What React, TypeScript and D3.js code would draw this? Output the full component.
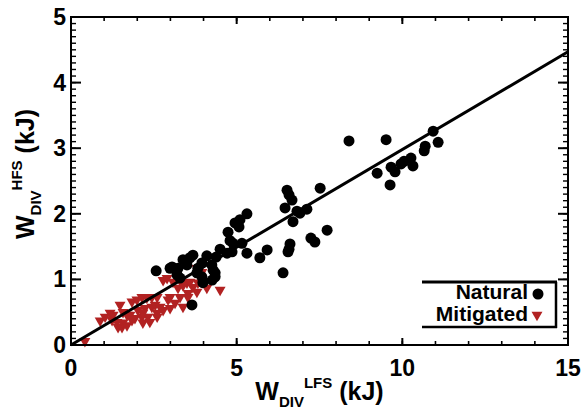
import React from "react";
import * as d3 from "d3";

const naturalX = [8.39, 9.51, 10.93, 11.08, 10.69, 10.66, 10.26, 10.05, 9.96, 10.32, 9.66, 9.78, 9.24, 9.63,
  7.52, 7.12, 7.73, 7.24, 7.36, 6.52, 6.58, 6.67, 6.46, 6.82, 6.91, 6.70, 6.61, 6.58, 6.55, 5.92, 5.70, 6.40,
  5.31, 5.10, 5.07, 4.74, 4.80, 5.16, 4.50, 4.86, 5.31, 4.10, 4.38, 4.29, 4.35, 3.95, 4.25, 3.68, 3.59, 3.38,
  3.50, 3.05, 2.99, 3.23, 2.57, 3.83, 4.35, 4.26, 3.95, 3.65, 3.80, 3.98, 4.95, 4.89, 4.71, 3.20, 3.29];
const naturalY = [3.11, 3.13, 3.26, 3.09, 3.03, 2.96, 2.85, 2.80, 2.76, 2.73, 2.71, 2.64, 2.62, 2.44,
  2.39, 2.07, 1.75, 1.63, 1.57, 2.36, 2.29, 2.21, 2.09, 2.04, 2.01, 1.88, 1.54, 1.46, 1.42, 1.45, 1.33, 1.10,
  2.00, 1.91, 1.80, 1.72, 1.59, 1.55, 1.46, 1.42, 1.40, 1.36, 1.34, 1.14, 1.04, 1.25, 1.22, 1.37, 1.33, 1.30,
  1.22, 1.19, 1.17, 1.17, 1.13, 1.17, 1.10, 0.99, 1.04, 0.61, 1.10, 0.95, 1.86, 1.55, 1.40, 1.07, 1.02];

const mitigatedX = [0.42, 0.88, 1.03, 1.18, 1.27, 1.24, 1.39, 1.42, 1.54, 1.57, 1.69, 1.48, 1.57, 1.78, 1.69,
  1.84, 1.99, 2.14, 2.29, 2.44, 2.60, 2.02, 2.23, 2.44, 1.93, 2.14, 2.32, 2.17, 2.38, 2.60, 1.84, 2.54, 2.69,
  2.17, 2.60, 2.78, 2.99, 3.14, 2.78, 2.90, 3.08, 3.23, 3.29, 3.53, 3.80, 3.83, 4.50, 3.50, 2.93, 3.38, 3.59,
  3.38, 3.68, 4.10, 3.53, 2.99, 3.80, 3.95];
const mitigatedY = [0.06, 0.37, 0.43, 0.49, 0.46, 0.38, 0.35, 0.27, 0.27, 0.34, 0.30, 0.61, 0.50, 0.46, 0.46,
  0.66, 0.69, 0.73, 0.72, 0.73, 0.73, 0.53, 0.56, 0.58, 0.41, 0.43, 0.43, 0.34, 0.35, 0.43, 0.38, 0.61, 0.58,
  0.49, 0.49, 0.53, 0.56, 0.64, 0.99, 1.02, 0.96, 0.87, 0.73, 0.79, 0.81, 0.95, 0.84, 0.95, 0.69, 0.58, 0.96,
  0.91, 0.88, 0.87, 0.73, 0.73, 1.17, 1.11];

const fitX = [0, 15];
const fitY = [0, 4.47];

const xMajor = [0, 5, 10, 15];
const yMajor = [0, 1, 2, 3, 4, 5];
const legendLabels = ["Natural", "Mitigated"];

const RED = "#b22222";

export default function App() {
  const W = 583, H = 418;
  const x = d3.scaleLinear().domain([0, 15]).range([71, 568]);
  const y = d3.scaleLinear().domain([0, 5]).range([345, 17]);
  const xMinor = d3.range(0, 16, 1);
  const yMinor = d3.range(0, 51).map((i) => i / 10);
  const tri = d3.symbol(d3.symbolTriangle, 52)();
  const line = d3.line<number>().x((d, i) => x(fitX[i])).y((d, i) => y(fitY[i]));
  const font = "'Liberation Sans', Arial, Helvetica, sans-serif";
  const [x0, x1] = x.range();
  const [y0, y1] = y.range();

  return (
    <svg width={W} height={H} style={{ position: "absolute", left: 0, top: 0, background: "#fff" }} fontFamily={font}>
      <rect x={0} y={0} width={W} height={H} fill="#fff" />
      {mitigatedX.map((v, i) => (
        <path key={"m" + i} d={tri!} transform={`translate(${x(v)},${y(mitigatedY[i])}) rotate(180)`} fill={RED} />
      ))}
      {naturalX.map((v, i) => (
        <circle key={"n" + i} cx={x(v)} cy={y(naturalY[i])} r={5.5} fill="#000" />
      ))}
      <path d={line(fitX)!} stroke="#000" strokeWidth={3} fill="none" />

      {xMinor.map((v) => (
        <g key={"xm" + v} stroke="#000" strokeWidth={1.6}>
          <line x1={x(v)} x2={x(v)} y1={y0} y2={y0 - 4} />
          <line x1={x(v)} x2={x(v)} y1={y1} y2={y1 + 4} />
        </g>
      ))}
      {xMajor.map((v) => (
        <g key={"xM" + v} stroke="#000" strokeWidth={2}>
          <line x1={x(v)} x2={x(v)} y1={y0} y2={y0 - 7} />
          <line x1={x(v)} x2={x(v)} y1={y1} y2={y1 + 7} />
        </g>
      ))}
      {yMinor.map((v) => (
        <g key={"ym" + v} stroke="#000" strokeWidth={1.4}>
          <line x1={x0} x2={x0 + 5} y1={y(v)} y2={y(v)} />
          <line x1={x1} x2={x1 - 5} y1={y(v)} y2={y(v)} />
        </g>
      ))}
      {yMajor.map((v) => (
        <g key={"yM" + v} stroke="#000" strokeWidth={2}>
          <line x1={x0} x2={x0 + 10} y1={y(v)} y2={y(v)} />
          <line x1={x1} x2={x1 - 10} y1={y(v)} y2={y(v)} />
        </g>
      ))}
      <rect x={x0} y={y1} width={x1 - x0} height={y0 - y1} fill="none" stroke="#000" strokeWidth={2} />

      {xMajor.map((v) => (
        <text key={"xl" + v} x={x(v)} y={376} textAnchor="middle" fontSize={23} fontWeight="bold">{v}</text>
      ))}
      {yMajor.map((v) => (
        <text key={"yl" + v} x={66} y={y(v) + 8} textAnchor="end" fontSize={23} fontWeight="bold">{v}</text>
      ))}

      <text x={(x0 + x1) / 2} y={400} textAnchor="middle" fontSize={25} fontWeight="bold">
        W<tspan fontSize={15} dy={7}>DIV</tspan><tspan fontSize={15} dy={-19}>LFS</tspan><tspan fontSize={25} dy={12}> (kJ)</tspan>
      </text>
      <text transform={`translate(34,174) rotate(-90)`} textAnchor="middle" fontSize={25} fontWeight="bold">
        W<tspan fontSize={15} dy={7}>DIV</tspan><tspan fontSize={15} dy={-19}>HFS</tspan><tspan fontSize={25} dy={12}> (kJ)</tspan>
      </text>

      <g stroke="#000" fill="none">
        <line x1={422} x2={557} y1={282} y2={282} strokeWidth={3} />
        <line x1={556} x2={556} y1={282} y2={328} strokeWidth={2.5} />
        <line x1={422} x2={557} y1={327} y2={327} strokeWidth={2.5} />
      </g>
      <text x={528} y={299} textAnchor="end" fontSize={21} fontWeight="bold">{legendLabels[0]}</text>
      <text x={528} y={321} textAnchor="end" fontSize={21} fontWeight="bold">{legendLabels[1]}</text>
      <circle cx={538} cy={294} r={5.5} fill="#000" />
      <path d={tri!} transform={`translate(537,315) rotate(180)`} fill={RED} />
    </svg>
  );
}
